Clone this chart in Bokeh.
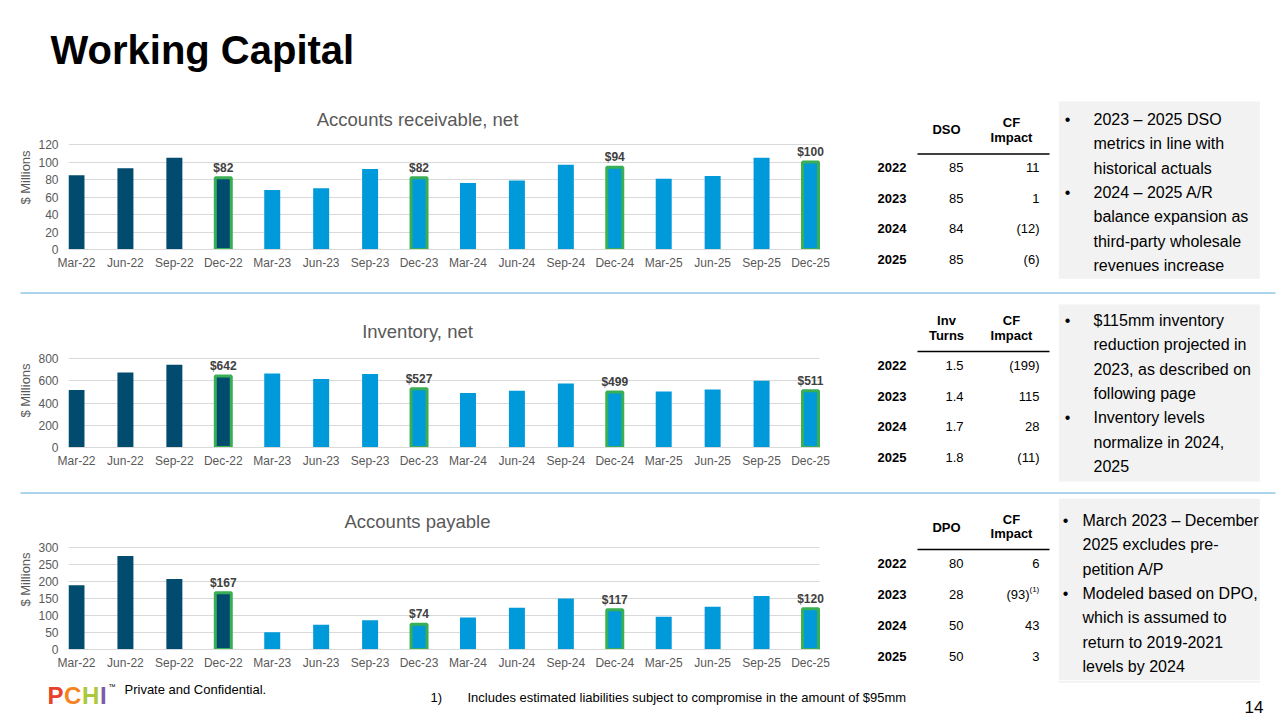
import math
from bokeh.plotting import figure
from bokeh.models import Range1d, FixedTicker, ColumnDataSource, LabelSet
from bokeh.layouts import column, row
from bokeh.core.properties import value
from bokeh.embed import file_html
from bokeh.resources import INLINE

# ---------------- data ----------------
quarters = ["Mar-22", "Jun-22", "Sep-22", "Dec-22", "Mar-23", "Jun-23", "Sep-23", "Dec-23",
            "Mar-24", "Jun-24", "Sep-24", "Dec-24", "Mar-25", "Jun-25", "Sep-25", "Dec-25"]
period = ["Actual", "Actual", "Actual", "Actual", "Projected", "Projected", "Projected", "Projected",
          "Projected", "Projected", "Projected", "Projected", "Projected", "Projected", "Projected", "Projected"]
ar_values = [85, 93, 105, 82, 68, 70, 92, 82, 76, 79, 97, 94, 81, 84, 105, 100]
inv_values = [516, 675, 743, 642, 666, 615, 660, 527, 490, 510, 576, 499, 504, 522, 600, 511]
ap_values = [189, 275, 207, 167, 51, 73, 86, 74, 94, 123, 150, 117, 96, 126, 157, 120]

years = ["2022", "2023", "2024", "2025"]
dso = [85, 85, 84, 85]
ar_cf_impact = [11, 1, -12, -6]
inv_turns = [1.5, 1.4, 1.7, 1.8]
inv_cf_impact = [-199, 115, 28, -11]
dpo = [80, 28, 50, 50]
ap_cf_impact = [6, -93, 43, 3]
ap_cf_notes = ["", "(1)", "", ""]

ar_bullets = [["2023 \u2013 2025 DSO", "metrics in line with", "historical actuals"],
              ["2024 \u2013 2025 A/R", "balance expansion as", "third-party wholesale", "revenues increase"]]
inv_bullets = [["$115mm inventory", "reduction projected in", "2023, as described on", "following page"],
               ["Inventory levels", "normalize in 2024,", "2025"]]
ap_bullets = [["March 2023 \u2013 December", "2025 excludes pre-", "petition A/P"],
              ["Modeled based on DPO,", "which is assumed to", "return to 2019-2021", "levels by 2024"]]

# ---------------- style ----------------
FONT = "Liberation Sans"
DARK = "#004B6E"
LIGHT = "#0099DA"
GREEN = "#3AAE54"
GRID = "#D9D9D9"
AXIS_TEXT = "#595959"
LABEL_TEXT = "#404040"
BOX = "#F2F2F2"
SEP = "#5AA9DC"

PAGE_W = 1276
LEFT_W = 835
LBL_W = 35
STEP_PX = 49.0


def no_align(p):
    try:
        p.frame_align = False
    except Exception:
        pass


def fmt_cf(v):
    return f"({abs(v)})" if v < 0 else f"{v}"


def plain_figure(y_top, y_bot, x_left, x_right):
    p = figure(width=x_right - x_left, height=y_bot - y_top, x_range=Range1d(x_left, x_right),
               y_range=Range1d(y_bot, y_top), output_backend="svg", toolbar_location=None, tools="",
               x_axis_type=None, y_axis_type=None, min_border=0)
    no_align(p)
    p.outline_line_color = None
    p.background_fill_color = "white"
    p.border_fill_color = "white"
    return p


def txt(p, xs, ys, texts, size="13px", bold=False, align="left", color="black", baseline="middle", angle=0):
    p.text(x=xs, y=ys, text=texts, text_font=value(FONT), text_font_size=size,
           text_font_style="bold" if bold else "normal", text_align=align,
           text_baseline=baseline, text_color=color, angle=angle)


def make_chart(values, y_max, y_step, y_top, y_bot, frame_top, frame_bot, label_y):
    """Chart block covering page rows y_top..y_bot: a narrow figure holding the
    rotated axis title, and the bar chart whose frame spans frame_top..frame_bot."""
    n = len(quarters)
    height = y_bot - y_top
    x0 = -8 / STEP_PX
    x1 = (n - 1) + 16 / STEP_PX
    bar_end = (n - 1) + 9 / STEP_PX
    frame_h = frame_bot - frame_top
    y_end = y_max * frame_h / (frame_h - 1)
    frame_w = int(round((x1 - x0) * STEP_PX))
    chart_w = LEFT_W - LBL_W
    p = figure(width=chart_w, height=height, x_range=Range1d(x0, x1), y_range=Range1d(0, y_end),
               output_backend="svg", toolbar_location=None, tools="",
               min_border_left=67 - LBL_W, min_border_right=chart_w - (67 - LBL_W) - frame_w,
               min_border_top=frame_top - y_top, min_border_bottom=y_bot - frame_bot)
    no_align(p)
    p.outline_line_color = None
    p.background_fill_color = "white"
    p.border_fill_color = "white"
    p.xgrid.visible = False

    yt = FixedTicker(ticks=list(range(0, y_max + 1, y_step)))
    p.yaxis.ticker = yt
    p.ygrid.ticker = yt
    p.ygrid.grid_line_color = GRID
    p.ygrid.grid_line_width = 1
    try:
        p.ygrid.cross_bounds = (x0, bar_end)
    except Exception:
        pass

    p.xaxis.ticker = FixedTicker(ticks=list(range(n)))
    p.xaxis.major_label_overrides = {i: q for i, q in enumerate(quarters)}
    p.xaxis.bounds = (x0, bar_end)

    for ax in (p.xaxis, p.yaxis):
        ax.major_label_text_font = FONT
        ax.major_label_text_font_size = "12px"
        ax.major_label_text_color = AXIS_TEXT
        ax.major_tick_line_color = None
        ax.minor_tick_line_color = None
        ax.major_tick_out = 0
        ax.minor_tick_out = 0
    p.xaxis.axis_line_color = GRID
    p.xaxis.major_label_standoff = 6
    p.yaxis.axis_line_color = None
    p.yaxis.major_label_standoff = 10

    colors = [DARK if k == "Actual" else LIGHT for k in period]
    src = ColumnDataSource(dict(x=list(range(n)), top=values, color=colors))
    p.vbar(x="x", top="top", width=16 / STEP_PX, source=src, fill_color="color", line_color=None)

    dec = [i for i, q in enumerate(quarters) if q.startswith("Dec")]
    src2 = ColumnDataSource(dict(x=dec, top=[values[i] for i in dec],
                                 label=[f"${values[i]}" for i in dec]))
    p.vbar(x="x", top="top", width=16 / STEP_PX, source=src2, fill_color=None,
           line_color=GREEN, line_width=3)
    p.add_layout(LabelSet(x="x", y="top", text="label", source=src2, text_align="center",
                          text_baseline="middle", y_offset=10, text_font=value(FONT),
                          text_font_size="12px", text_font_style="bold", text_color=LABEL_TEXT))

    lbl = plain_figure(y_top, y_bot, 0, LBL_W)
    txt(lbl, [25], [label_y], ["$ Millions"], size="13px", color=AXIS_TEXT, align="center",
        angle=math.pi / 2)
    return row(lbl, p)


def draw_table(p, head1, head1_y, cf_y, underline_y, rows_y, col1, cf, notes=None):
    txt(p, [946] * len(head1), head1_y, head1, bold=True, align="center")
    txt(p, [1011, 1011], cf_y, ["CF", "Impact"], bold=True, align="center")
    p.segment(x0=[917], x1=[1049], y0=[underline_y], y1=[underline_y], line_color="black", line_width=1.5)
    txt(p, [877] * len(years), rows_y, years, bold=True)
    txt(p, [963] * len(col1), rows_y, [str(v) for v in col1], align="right")
    if notes is None:
        notes = [""] * len(cf)
    xs = [1039 - (10 if nt else 0) for nt in notes]
    txt(p, xs, rows_y, [fmt_cf(v) for v in cf], align="right")
    nx = [x for x, nt in zip(xs, notes) if nt]
    ny = [y - 5 for y, nt in zip(rows_y, notes) if nt]
    nt_txt = [nt for nt in notes if nt]
    if nt_txt:
        txt(p, nx, ny, nt_txt, size="8px")


def draw_bullets(p, bullets, y0, dot_x, text_x, box_top, box_bot):
    p.quad(left=[1058.3], right=[1259.3], top=[box_top], bottom=[box_bot], fill_color=BOX, line_color=None)
    lines, ys, dots = [], [], []
    y = y0
    for b in bullets:
        dots.append(y)
        for line in b:
            lines.append(line)
            ys.append(y)
            y += 24.33
    txt(p, [text_x] * len(lines), ys, lines, size="16px")
    txt(p, [dot_x] * len(dots), dots, ["\u2022"] * len(dots), size="16px", align="center")


def chart_title(y_top, y_bot, title, y):
    t = plain_figure(y_top, y_bot, 0, LEFT_W)
    txt(t, [417], [y], [title], size="18.5px", color=AXIS_TEXT, align="center")
    return t


def separator(y_top, y_bot, y):
    s = plain_figure(y_top, y_bot, 0, PAGE_W)
    s.quad(left=[20], right=[1275], top=[y - 0.5], bottom=[y + 0.5], fill_color=SEP, line_color=None)
    return s


# ---------------- header ----------------
hdr = plain_figure(0, 100, 0, PAGE_W)
txt(hdr, [50], [49], ["Working Capital"], size="40px", bold=True)

# ---------------- band 1: A/R ----------------
t1 = chart_title(100, 130, "Accounts receivable, net", 119)
c1 = make_chart(ar_values, 120, 20, 130, 286, 143, 249, 177)
s1 = plain_figure(100, 286, LEFT_W, PAGE_W)
draw_table(s1, ["DSO"], [129], [122, 137], 153.5, [166.7, 197.7, 228.3, 259], dso, ar_cf_impact)
draw_bullets(s1, ar_bullets, 119, 1067, 1093, 101, 278.3)

sep1 = separator(286, 296, 290.5)

# ---------------- band 2: Inventory ----------------
t2 = chart_title(296, 345, "Inventory, net", 331)
c2 = make_chart(inv_values, 800, 200, 345, 486, 357, 447, 390)
s2 = plain_figure(296, 486, LEFT_W, PAGE_W)
draw_table(s2, ["Inv", "Turns"], [320, 335], [320, 335], 351, [365, 395.7, 426, 457.3], inv_turns, inv_cf_impact)
draw_bullets(s2, inv_bullets, 320, 1067, 1093, 304, 481)

sep2 = separator(486, 496, 490.5)

# ---------------- band 3: A/P ----------------
t3 = chart_title(496, 535, "Accounts payable", 521)
c3 = make_chart(ap_values, 300, 50, 535, 680, 546, 649, 579)
s3 = plain_figure(496, 680, LEFT_W, PAGE_W)
draw_table(s3, ["DPO"], [527], [519, 533], 549, [563.3, 594.3, 625, 655.7], dpo, ap_cf_impact, ap_cf_notes)
draw_bullets(s3, ap_bullets, 520, 1065, 1082, 498.3, 682.3)

# ---------------- footer ----------------
ftr = plain_figure(680, 718, 0, PAGE_W)
ftr.quad(left=[1058.3], right=[1259.3], top=[680], bottom=[682.3], fill_color=BOX, line_color=None)
logo_letters = ["P", "C", "H", "I"]
logo_colors = ["#E8412C", "#F5841F", "#A9C93B", "#7D5BA6"]
logo_x = [47, 63.5, 81.5, 99.5]
ftr.text(x=logo_x, y=[695] * 4, text=logo_letters, text_color=logo_colors,
         text_font=value(FONT), text_font_size="24px", text_font_style="bold",
         text_align="left", text_baseline="middle")
txt(ftr, [108], [686], ["\u2122"], size="7px")
txt(ftr, [124], [689], ["Private and Confidential."], size="13px")
txt(ftr, [430], [697], ["1)"], size="13px")
txt(ftr, [467], [697], ["Includes estimated liabilities subject to compromise in the amount of $95mm"], size="13px")
txt(ftr, [1263], [706], ["14"], size="17px", align="right")

layout = column(hdr,
                row(column(t1, c1), s1),
                sep1,
                row(column(t2, c2), s2),
                sep2,
                row(column(t3, c3), s3),
                ftr)

open("out.html", "w").write(file_html(layout, INLINE))
